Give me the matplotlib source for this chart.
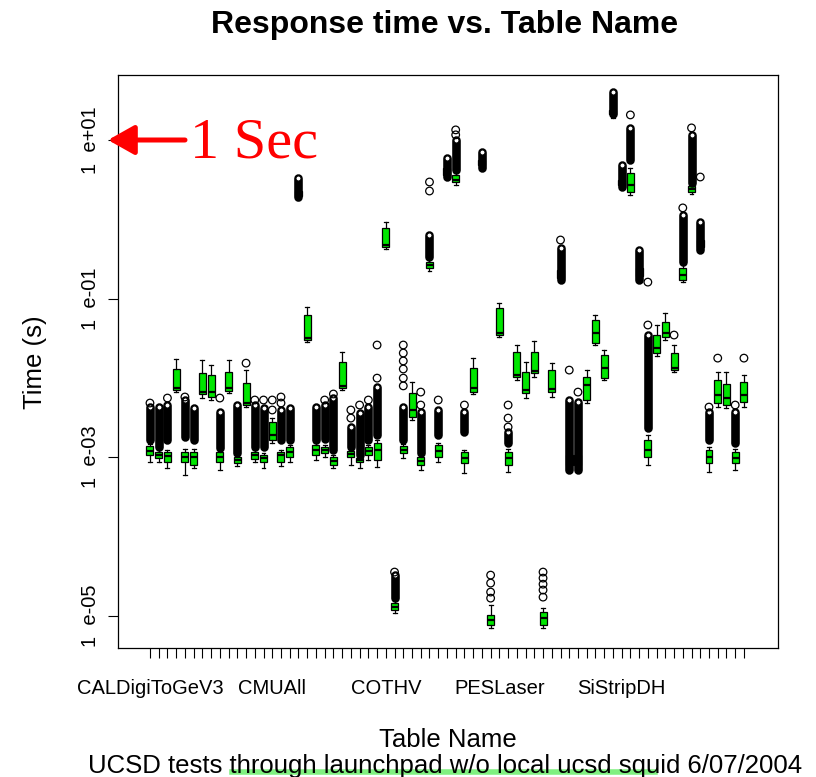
import matplotlib
matplotlib.use("Agg")
import matplotlib.pyplot as plt
from matplotlib.lines import Line2D
from matplotlib.ticker import NullLocator

# one box per table, positions 1..69 (seconds)
whislo = [8.6e-4, 8.6e-4, 7.3e-4, 6.6e-3, 5.9e-4, 7.3e-4, 5.5e-3, 5.2e-3, 6.9e-4, 6.4e-3,
          7.7e-4, 4.3e-3, 8.6e-4, 7.3e-4, 1.5e-3, 7.7e-4, 8.6e-4, 1.75, 0.028, 9.2e-4,
          1.0e-3, 7.3e-4, 7.0e-3, 7.9e-4, 7.3e-4, 9.2e-4, 7.5e-4, 0.42, 1.08e-5, 9.7e-4,
          2.9e-3, 6.9e-4, 0.22, 8.6e-4, 3.4, 2.7, 6.3e-4, 6.2e-3, 4.4, 7.0e-6,
          0.033, 6.5e-4, 9.4e-3, 5.5e-3, 1.02e-2, 7.0e-6, 5.7e-3, 0.17, 6.9e-4, 6.9e-4,
          4.8e-3, 0.026, 9.4e-3, 18.9, 2.55, 2.0, 0.17, 7.9e-4, 0.019, 0.030,
          0.0118, 0.16, 2.08, 0.41, 6.5e-4, 4.3e-3, 4.15e-3, 6.9e-4, 4.3e-3]
q1 = [1.06e-3, 9.7e-4, 8.6e-4, 7.0e-3, 8.6e-4, 7.9e-4, 6.2e-3, 5.7e-3, 8.6e-4, 6.8e-3,
      8.4e-4, 4.5e-3, 9.4e-4, 8.6e-4, 1.64e-3, 8.6e-4, 1.0e-3, 1.96, 0.030, 1.06e-3,
      1.12e-3, 7.9e-4, 7.4e-3, 1.0e-3, 8.6e-4, 1.06e-3, 9.2e-4, 0.45, 1.17e-5, 1.12e-3,
      3.2e-3, 7.9e-4, 0.243, 1.0e-3, 3.6, 2.95, 8.4e-4, 6.6e-3, 4.8, 7.6e-6,
      0.035, 7.9e-4, 1.02e-2, 6.4e-3, 1.15e-2, 7.6e-6, 6.6e-3, 0.18, 7.9e-4, 7.9e-4,
      5.2e-3, 0.0275, 9.9e-3, 21.3, 2.7, 2.2, 0.19, 1.0e-3, 0.0205, 0.0327,
      0.0125, 0.171, 2.21, 0.447, 8.4e-4, 4.8e-3, 4.5e-3, 8.4e-4, 4.9e-3]
med = [1.19e-3, 1.06e-3, 1.03e-3, 7.4e-3, 1.0e-3, 1.0e-3, 6.6e-3, 6.6e-3, 1.0e-3, 7.4e-3,
       9.2e-4, 4.8e-3, 1.06e-3, 9.7e-4, 1.9e-3, 1.06e-3, 1.16e-3, 2.08, 0.032, 1.23e-3,
       1.23e-3, 8.9e-4, 7.9e-3, 1.09e-3, 9.2e-4, 1.19e-3, 1.23e-3, 0.47, 1.28e-5, 1.23e-3,
       3.9e-3, 8.9e-4, 0.265, 1.19e-3, 3.9, 3.1, 9.7e-4, 7.4e-3, 5.1, 8.8e-6,
       0.037, 9.7e-4, 1.08e-2, 7.0e-3, 1.2e-2, 9.3e-6, 7.2e-3, 0.198, 9.2e-4, 9.2e-4,
       8.1e-3, 0.037, 1.33e-2, 22.6, 2.86, 2.7, 0.216, 1.23e-3, 0.0237, 0.0367,
       0.0133, 0.198, 2.41, 0.487, 1.0e-3, 6.1e-3, 5.5e-3, 9.7e-4, 6.1e-3]
q3 = [1.38e-3, 1.16e-3, 1.16e-3, 1.29e-2, 1.16e-3, 1.16e-3, 1.15e-2, 1.08e-2, 1.16e-3, 1.18e-2,
      1.0e-3, 8.6e-3, 1.16e-3, 1.06e-3, 2.77e-3, 1.16e-3, 1.34e-3, 2.27, 0.062, 1.42e-3,
      1.34e-3, 1.0e-3, 1.58e-2, 1.19e-3, 9.7e-4, 1.34e-3, 1.5e-3, 0.78, 1.44e-5, 1.38e-3,
      6.4e-3, 1.0e-3, 0.289, 1.42e-3, 4.4, 3.6, 1.16e-3, 1.33e-2, 5.6, 1.01e-5,
      0.076, 1.16e-3, 2.11e-2, 1.18e-2, 2.11e-2, 1.11e-5, 1.25e-2, 0.229, 1.06e-3, 1.06e-3,
      1.02e-2, 0.054, 1.94e-2, 23.9, 3.13, 3.84, 0.243, 1.64e-3, 0.0346, 0.0505,
      0.0205, 0.243, 2.63, 0.547, 1.23e-3, 9.4e-3, 8.3e-3, 1.16e-3, 8.8e-3]
whishi = [1.46e-3, 1.23e-3, 1.23e-3, 1.72e-2, 1.26e-3, 1.26e-3, 1.67e-2, 1.45e-2, 1.23e-3, 1.67e-2,
          1.06e-3, 1.25e-2, 1.23e-3, 1.12e-3, 3.1e-3, 1.23e-3, 1.42e-3, 2.41, 0.078, 1.5e-3,
          1.42e-3, 1.06e-3, 2.11e-2, 1.26e-3, 1.03e-3, 1.42e-3, 1.64e-3, 0.92, 1.52e-5, 1.46e-3,
          8.8e-3, 1.06e-3, 0.315, 1.5e-3, 4.84, 3.84, 1.23e-3, 1.77e-2, 5.93, 1.36e-5,
          0.088, 1.26e-3, 2.59e-2, 1.58e-2, 2.91e-2, 1.24e-5, 1.53e-2, 0.265, 1.23e-3, 1.23e-3,
          1.25e-2, 0.062, 2.24e-2, 25.3, 3.31, 4.44, 0.265, 1.9e-3, 0.0463, 0.0656,
          0.0259, 0.265, 2.79, 0.633, 1.34e-3, 1.18e-2, 1.18e-2, 1.26e-3, 1.08e-2]

# range covered by densely packed outliers (None = no such cluster)
band_lo = [1.64e-3, 1.34e-3, 1.64e-3, None, 1.79e-3, 1.64e-3, None, None, 1.30e-3, None,
           1.12e-3, None, 1.34e-3, 1.34e-3, None, 1.64e-3, 1.64e-3, 1.91, None, 1.64e-3,
           1.7e-3, 1.23e-3, None, 1.34e-3, 1.06e-3, 1.64e-3, 1.9e-3, None, 1.66e-5, 1.64e-3,
           None, 1.12e-3, 0.334, 1.9e-3, 3.41, 4.18, 2.07e-3, None, 4.44, None,
           None, 1.5e-3, None, None, None, None, None, 0.171, 6.9e-4, 6.9e-4,
           None, None, None, 21.0, 2.55, 5.6, 0.171, 2.32e-3, None, None,
           None, 0.289, 2.86, 0.409, 1.64e-3, None, None, 1.5e-3, None]
band_hi = [4.27e-3, 4.27e-3, 4.53e-3, None, 5.24e-3, 4.15e-3, None, None, 3.70e-3, None,
           4.53e-3, None, 4.53e-3, 4.15e-3, None, 3.9e-3, 4.15e-3, 3.31, None, 4.27e-3,
           4.5e-3, 5.55e-3, None, 2.39e-3, 3.59e-3, 4.27e-3, 7.64e-3, None, 3.24e-5, 4.27e-3,
           None, 3.7e-3, 0.633, 3.92e-3, 5.93, 10.0, 3.7e-3, None, 7.06, None,
           None, 2.07e-3, None, None, None, None, None, 0.434, 5.24e-3, 4.94e-3,
           None, None, None, 40.4, 4.84, 14.2, 0.409, 3.46e-2, None, None,
           None, 1.13, 11.6, 0.92, 3.7e-3, None, None, 3.7e-3, None]

# separate outliers
fliers = [[4.8e-3], [], [5.55e-3], [], [5.72e-3], [], [], [], [5.55e-3], [],
          [], [1.53e-2], [5.24e-3], [5.24e-3], [3.92e-3, 5.24e-3], [4.8e-3, 5.72e-3], [], [], [], [],
          [5.24e-3], [6.24e-3], [], [3.1e-3, 3.92e-3], [4.53e-3], [5.24e-3], [9.9e-3, 2.59e-2], [], [3.54e-5],
          [7.9e-3, 9.9e-3, 1.29e-2, 1.63e-2, 2.05e-2, 2.59e-2],
          [], [4.53e-3, 6.6e-3], [2.27, 2.95], [5.24e-3], [], [11.6, 13.4], [4.53e-3], [], [],
          [1.66e-5, 1.98e-5, 2.57e-5, 3.24e-5],
          [], [2.39e-3, 3.1e-3, 4.53e-3], [], [], [], [1.71e-5, 2.1e-5, 2.49e-5, 2.97e-5, 3.54e-5],
          [], [0.547], [1.25e-2], [6.6e-3],
          [], [], [], [], [], [20.7], [], [4.63e-2, 0.161], [], [],
          [3.46e-2], [1.39], [14.2], [3.41], [4.27e-3], [1.77e-2], [], [4.53e-3], [1.77e-2]]

label_pos = [1, 15, 28, 41, 55]
label_names = ["CALDigiToGeV3", "CMUAll", "COTHV", "PESLaser", "SiStripDH"]

ytick_vals = [1e1, 1e-1, 1e-3, 1e-5]
ytick_text = ["1  e+01", "1  e-01", "1  e-03", "1  e-05"]

GREEN = "#00e600"
W, H = 816, 777

fig = plt.figure(figsize=(W / 100, H / 100), dpi=100)
ax = fig.add_axes([118 / W, 1 - 648 / H, 660 / W, 573 / H])

n = len(med)
positions = list(range(1, n + 1))
stats = [dict(whislo=whislo[i], q1=q1[i], med=med[i], q3=q3[i], whishi=whishi[i], fliers=[])
         for i in range(n)]

ax.bxp(stats, positions=positions, widths=0.8, capwidths=0.45, patch_artist=True,
       showfliers=False,
       boxprops=dict(facecolor=GREEN, edgecolor="black", linewidth=0.9),
       medianprops=dict(color="black", linewidth=1.6),
       whiskerprops=dict(color="black", linewidth=0.9),
       capprops=dict(color="black", linewidth=0.9))

# dense outlier clusters -> solid black columns of circles
bx = [p for p, lo in zip(positions, band_lo) if lo is not None]
blo = [lo for lo in band_lo if lo is not None]
bhi = [hi for hi in band_hi if hi is not None]
ax.vlines(bx, blo, bhi, colors="black", linewidth=6.2, capstyle="round", zorder=4)
ax.scatter(bx, bhi, s=14, facecolors="white", edgecolors="black", linewidths=0.9, zorder=5)

fx = [p for p, fl in zip(positions, fliers) for _ in fl]
fy = [v for fl in fliers for v in fl]
ax.scatter(fx, fy, s=30, facecolors="none", edgecolors="black", linewidths=0.9, zorder=5)

ax.set_yscale("log")
ax.set_ylim(3.9e-6, 66)
ax.set_xlim(-2.66, 72.9)
ax.set_yticks(ytick_vals)
ax.set_yticklabels(ytick_text, rotation=90, va="center")
ax.yaxis.set_minor_locator(NullLocator())

xt_labels = [""] * n
for p, name in zip(label_pos, label_names):
    xt_labels[p - 1] = name
ax.set_xticks(positions)
ax.set_xticklabels(xt_labels)

ax.tick_params(axis="x", length=7, width=0.8, pad=15, labelsize=14.5)
ax.tick_params(axis="y", length=7, width=0.8, pad=6, labelsize=14.5)
for lbl in ax.get_xticklabels() + ax.get_yticklabels():
    lbl.set_fontfamily("Liberation Sans")
for s in ax.spines.values():
    s.set_linewidth(0.9)

fig.text(445 / W, 1 - 25 / H, "Response time vs. Table Name", ha="center", va="center",
         fontsize=23, fontweight="bold", family="Liberation Sans")
fig.text(448 / W, 1 - 740 / H, "Table Name", ha="center", va="center",
         fontsize=18.5, family="Liberation Sans")
fig.text(35 / W, 1 - 362 / H, "Time (s)", ha="center", va="center", rotation=90,
         fontsize=18.5, family="Liberation Sans")
fig.text(445 / W, 1 - 766 / H, "UCSD tests through launchpad w/o local ucsd squid 6/07/2004",
         ha="center", va="center", fontsize=18.5, family="Liberation Sans")
fig.add_artist(Line2D([232 / W, 655 / W], [1 - 772 / H, 1 - 772 / H],
                      color="#80f080", linewidth=4))

# red "1 Sec" annotation
ax.annotate("", xy=(108 / W, 1 - 140 / H), xycoords="figure fraction",
            xytext=(185 / W, 1 - 140 / H), textcoords="figure fraction",
            arrowprops=dict(arrowstyle="-|>,head_length=0.8,head_width=0.45",
                            mutation_scale=20, color="#ff0000", lw=3.6, shrinkA=0, shrinkB=0),
            annotation_clip=False)
fig.text(190 / W, 1 - 157 / H, "1 Sec", color="#ff0000", fontsize=42,
         family="Liberation Serif", ha="left", va="baseline")

fig.savefig("out.png", dpi=100)
